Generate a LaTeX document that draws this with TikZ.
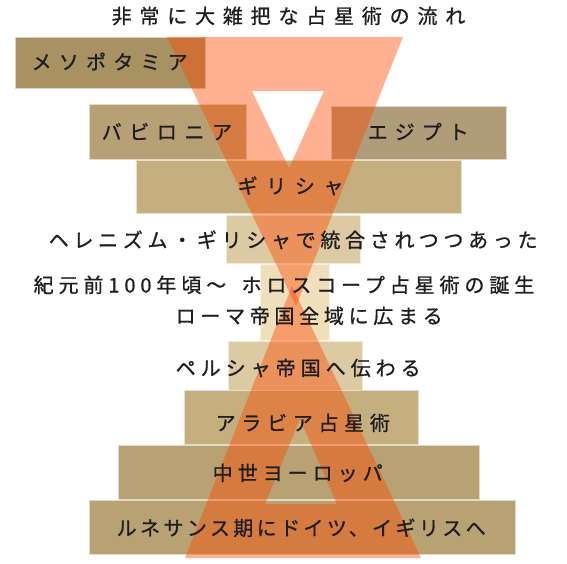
\documentclass[tikz,border=0pt]{standalone}
\usepackage{fontspec}
\setmainfont[FakeBold=0.9]{Noto Sans CJK JP}
\definecolor{cA}{HTML}{A89262}
\definecolor{cB}{HTML}{B7A174}
\definecolor{cC}{HTML}{B09C78}
\definecolor{cD}{HTML}{C5AF7E}
\definecolor{cE}{HTML}{DCCAA2}
\definecolor{cF}{HTML}{F0DFBB}
\definecolor{cG}{HTML}{B8A172}
\definecolor{orng}{RGB}{255,74,0}
\definecolor{ink}{HTML}{1E1E1E}
\newcommand\lsp[1]{\addfontfeatures{LetterSpace=#1}}
\tikzset{
  bx/.style={fill=#1, draw=white!60!#1, line width=0.8pt},
  orfill/.style={fill=orng, fill opacity=0.43, even odd rule},
  lbl/.style={anchor=base west, inner sep=0pt, text=ink, font=\fontsize{20pt}{24pt}\selectfont}
}
\begin{document}
\begin{tikzpicture}[x=1pt,y=-1pt]
\useasboundingbox (0,0) rectangle (567,564);
% boxes
\path[bx=cA] (15,37) rectangle (205,88);
\path[bx=cB] (89,104) rectangle (246,159);
\path[bx=cC] (331,106) rectangle (506,159);
\path[bx=cD] (136,160) rectangle (461,213);
\path[bx=cE] (226,215) rectangle (360,263);
\path[bx=cF] (260,264) rectangle (329,340);
\path[bx=cE] (228,341) rectangle (362,390);
\path[bx=cD] (184,390) rectangle (418,444);
\path[bx=cG] (118,445) rectangle (479,499);
\path[bx=cG] (89,500) rectangle (515,554);
% orange triangles
\fill[orfill] (167,37) -- (403,37) -- (296,306) -- cycle
              (252,91) -- (324,91) -- (289,168) -- cycle;
\fill[orfill] (185,558) -- (421,558) -- (292,286) -- cycle
              (300,419) -- (337,504) -- (265,504) -- cycle;
% texts
\node[lbl] (title) at (111.5,23.5) {\lsp{39}非常に大雑把な占星術の流れ};
\node[lbl] (meso) at (31.5,69.5) {\lsp{36}メソポタミア};
\node[lbl] (baby) at (101.5,139.5) {\lsp{38}バビロニア};
\node[lbl] (egy) at (367.5,139.5) {\lsp{35}エジプト};
\node[lbl] (gre) at (237.5,193.5) {\lsp{43}ギリシャ};
\node[lbl] (hel) at (48.5,247.5) {\lsp{23.5}ヘレニズム・ギリシャで統合されつつあった};
\node[lbl] (horo) at (33.5,292.5) {\lsp{24.5}紀元前100年頃～\hspace{6pt} ホロスコープ占星術の誕生};
\node[lbl] (rome) at (175.5,323.5) {\lsp{23.5}ローマ帝国全域に広まる};
\node[lbl] (pers) at (175.5,375.5) {\lsp{25}ペルシャ帝国へ伝わる};
\node[lbl] (arab) at (215.5,430.5) {\lsp{28.5}アラビア占星術};
\node[lbl] (medi) at (212.5,480.5) {\lsp{25}中世ヨーロッパ};
\node[lbl] (rena) at (116.5,535.5) {\lsp{17}ルネサンス期にドイツ、イギリスへ};
\end{tikzpicture}
\end{document}
